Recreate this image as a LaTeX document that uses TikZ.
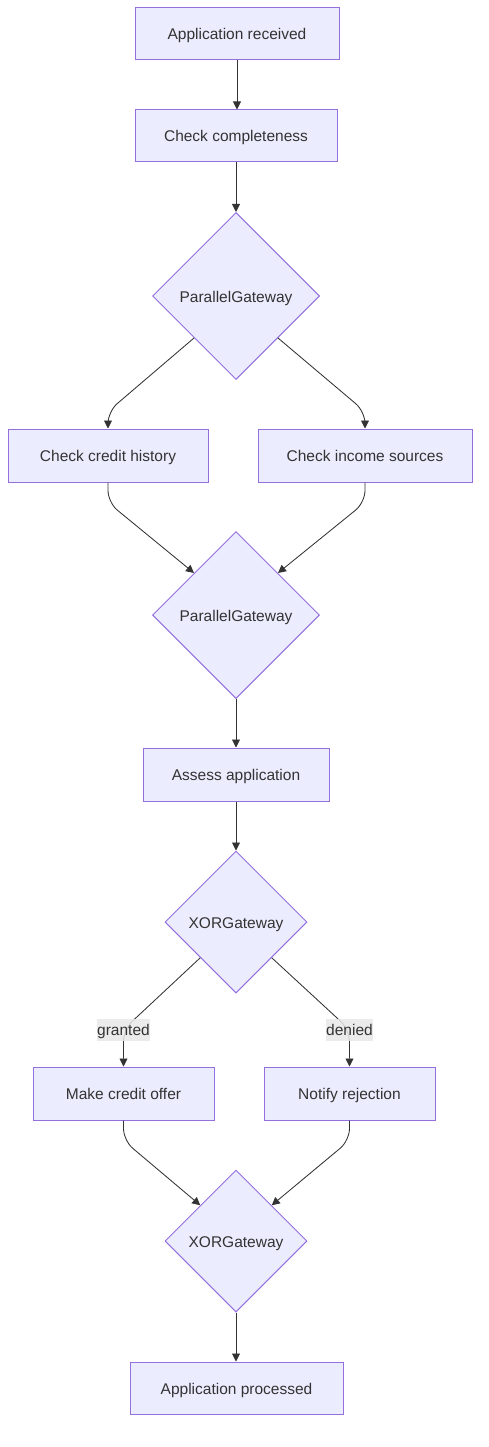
\documentclass[tikz,border=0pt]{standalone}
\usepackage{fontspec}
\setmainfont{Liberation Sans}
\usetikzlibrary{shapes.geometric,arrows.meta}
\definecolor{nodefill}{HTML}{ECECFF}
\definecolor{nodeline}{HTML}{9370DB}
\definecolor{edgeline}{HTML}{333333}
\definecolor{txt}{HTML}{333333}
\definecolor{lblbg}{HTML}{E8E8E8}
\begin{document}
\begin{tikzpicture}[x=1pt,y=-1pt,
 fnt/.style={font=\fontsize{15.5}{19}\selectfont,text height=12pt,text depth=0pt,text=txt},
 box/.style={fnt,draw=nodeline,fill=nodefill,line width=1pt,minimum height=52pt,inner sep=0pt},
 gate/.style={fnt,diamond,aspect=1,draw=nodeline,fill=nodefill,line width=1pt,inner sep=0pt},
 arr/.style={draw=edgeline,line width=0.85pt,-{Triangle[length=8pt,width=8pt]},rounded corners=12pt},
 lbl/.style={fnt,fill=lblbg,fill opacity=0.85,text opacity=1,inner xsep=0pt,minimum height=22pt,inner ysep=0pt}]
\useasboundingbox (0,0) rectangle (488,1447);
\node[box,minimum width=204pt] (ar) at (237,34) {Application received};
\node[box,minimum width=202pt] (cc) at (236,136) {Check completeness};
\node[gate,minimum width=167pt,minimum height=167pt] (g1) at (236,296) {ParallelGateway};
\node[box,minimum width=200pt,minimum height=53pt] (cch) at (108,455.5) {Check credit history};
\node[box,minimum width=214pt,minimum height=53pt] (cis) at (365,455.5) {Check income sources};
\node[gate,minimum width=167pt,minimum height=167pt] (g2) at (236,615) {ParallelGateway};
\node[box,minimum width=186pt,minimum height=53pt] (aa) at (236,774.5) {Assess application};
\node[gate,minimum width=142pt,minimum height=142pt] (g3) at (236,922) {XORGateway};
\node[box,minimum width=181pt,minimum height=53pt] (mco) at (123.5,1093.5) {Make credit offer};
\node[box,minimum width=171pt,minimum height=53pt] (nr) at (349.5,1093.5) {Notify rejection};
\node[gate,minimum width=142pt,minimum height=142pt] (g4) at (236,1241) {XORGateway};
\node[box,minimum width=213pt] (ap) at (236.5,1388) {Application processed};

\draw[arr] (ar.south) -- (ar.south |- cc.north);
\draw[arr] (cc.south) -- (g1.north);
\draw[arr] (g1.south west) -- ([yshift=17pt]cch.north) -- (cch.north);
\draw[arr] (g1.south east) -- ([yshift=17pt]cis.north) -- (cis.north);
\draw[arr] (cch.south) -- ([yshift=-20pt]cch.south) -- (g2.north west);
\draw[arr] (cis.south) -- ([yshift=-20pt]cis.south) -- (g2.north east);
\draw[arr] (g2.south) -- (g2.south |- aa.north);
\draw[arr] (aa.south) -- (g3.north);
\draw[arr] (g3.south west) -- ([yshift=37pt]mco.north) -- (mco.north);
\draw[arr] (g3.south east) -- ([yshift=37pt]nr.north) -- (nr.north);
\draw[arr] (mco.south) -- ([yshift=-20pt]mco.south) -- (g4.north west);
\draw[arr] (nr.south) -- ([yshift=-20pt]nr.south) -- (g4.north east);
\draw[arr] (g4.south) -- (g4.south |- ap.north);

\node[lbl] (lg) at ([yshift=37pt]mco.north) {granted};
\node[lbl] (ld) at ([yshift=37pt]nr.north) {denied};
\end{tikzpicture}
\end{document}
